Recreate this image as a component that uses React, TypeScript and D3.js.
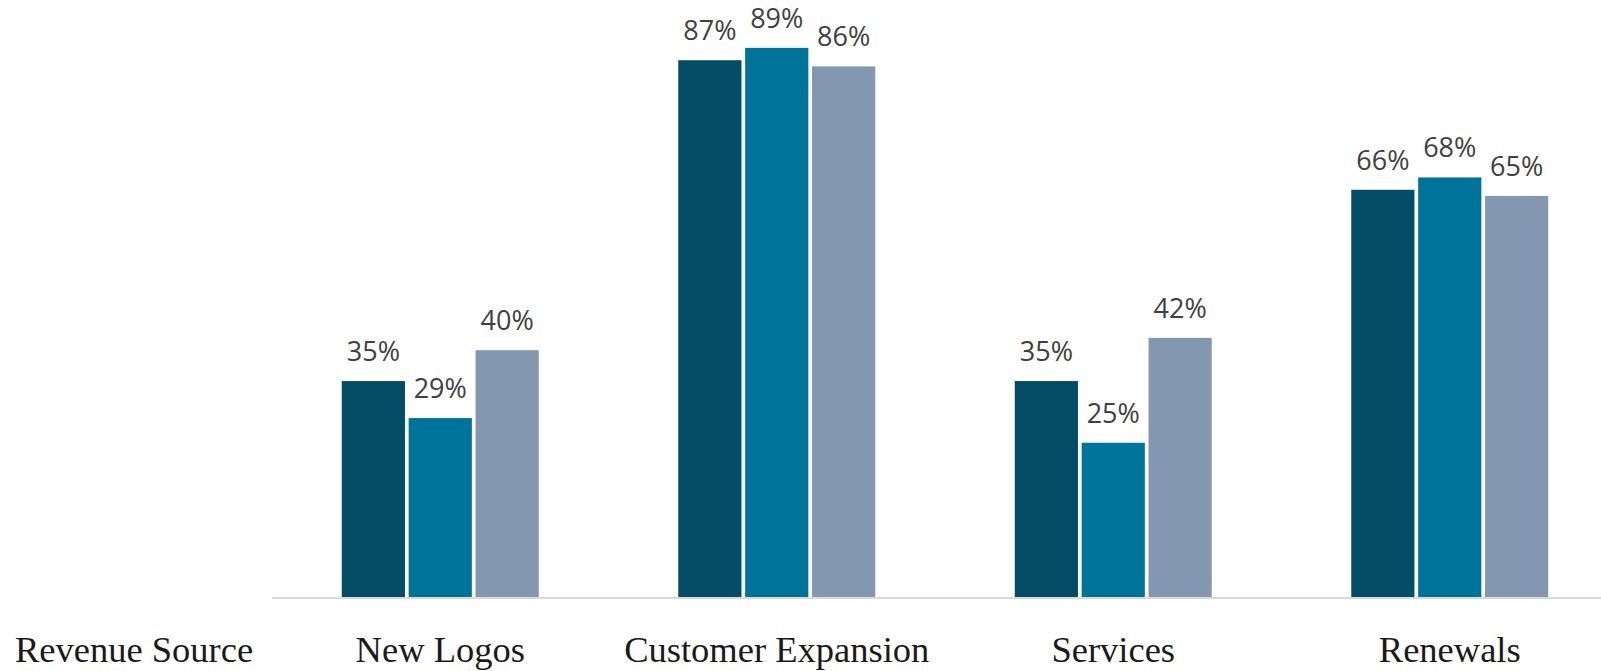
import React from "react";
import * as d3 from "d3";

const categories = ["New Logos", "Customer Expansion", "Services", "Renewals"];
const seriesNames = ["Series A", "Series B", "Series C"];
const seriesA = [0.35, 0.87, 0.35, 0.66];
const seriesB = [0.29, 0.89, 0.25, 0.68];
const seriesC = [0.40, 0.86, 0.42, 0.65];
const colors = ["#034E66", "#00739A", "#8497B0"];
const axisTitle = "Revenue Source";

const W = 1601;
const H = 671;

export default function App() {
  const series = [seriesA, seriesB, seriesC];
  const x0 = d3
    .scaleBand<string>()
    .domain(categories)
    .range([272, 1618])
    .paddingInner(0.4146)
    .paddingOuter(0.2073);
  const x1 = d3
    .scaleBand<string>()
    .domain(seriesNames)
    .range([0, x0.bandwidth()])
    .paddingInner(0.055);
  const y = d3.scaleLinear().domain([0, 1]).range([597, 597 - 617]);
  const fmt = d3.format(".0%");

  return (
    <svg
      width={W}
      height={H}
      style={{ position: "absolute", left: 0, top: 0, display: "block", background: "#fff" }}
    >
      {categories.map((c, ci) => (
        <g key={c} transform={`translate(${x0(c)},0)`}>
          {series.map((s, si) => {
            const bx = x1(seriesNames[si])!;
            const bw = x1.bandwidth();
            const v = s[ci];
            return (
              <g key={si}>
                <rect
                  x={bx}
                  y={y(v)}
                  width={bw}
                  height={y(0) - y(v)}
                  fill={colors[si]}
                />
                <text
                  x={bx + bw / 2}
                  y={y(v) - 20}
                  textAnchor="middle"
                  fontFamily="'Open Sans', sans-serif"
                  fontSize={27}
                  fill="#404040"
                >
                  {fmt(v)}
                </text>
              </g>
            );
          })}
          <text
            x={x0.bandwidth() / 2}
            y={662}
            textAnchor="middle"
            fontFamily="'Liberation Serif', serif"
            fontSize={36.5}
            fill="#1a1a1a"
          >
            {c}
          </text>
        </g>
      ))}
      <line x1={272} x2={W} y1={598} y2={598} stroke="#d9d9d9" strokeWidth={2} />
      <text
        x={15}
        y={662}
        fontFamily="'Liberation Serif', serif"
        fontSize={36.5}
        fill="#1a1a1a"
      >
        {axisTitle}
      </text>
    </svg>
  );
}
